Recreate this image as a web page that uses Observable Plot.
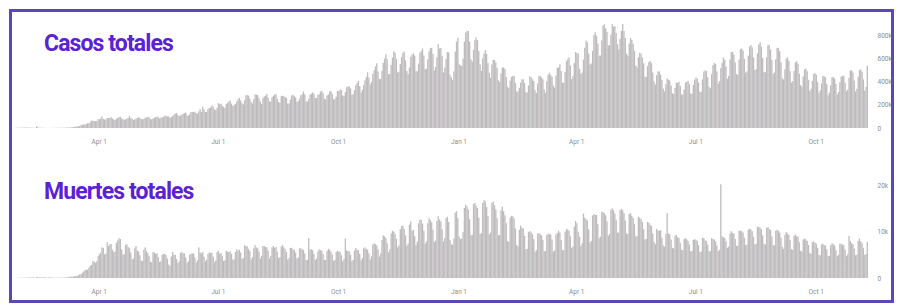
<!DOCTYPE html>
<html><head><meta charset="utf-8">
<script src="https://cdn.jsdelivr.net/npm/d3@7"></script>
<script src="https://cdn.jsdelivr.net/npm/@observablehq/plot@0.6"></script>
<style>
html,body{margin:0;padding:0;background:#fff;}
#wrap{position:relative;width:900px;height:308px;overflow:hidden;font-family:Roboto,"Noto Sans",sans-serif;}
#frame{position:absolute;left:9px;top:9px;width:885px;height:294px;box-sizing:border-box;border:3px solid #5848b8;}
.title{position:absolute;left:44px;font-weight:700;font-size:23px;color:#5b21d4;letter-spacing:-0.9px;white-space:nowrap;line-height:1;}
.chart{position:absolute;left:0;}
</style></head>
<body>
<div id="wrap">
<div id="frame"></div>
<div id="c1" class="chart" style="top:0px"></div>
<div id="c2" class="chart" style="top:150px"></div>
<div class="title" style="top:32px">Casos totales</div>
<div class="title" style="top:180px">Muertes totales</div>
</div>
<script>
// First day of the daily series (UTC); one value per day after that.
const startDate = "2020-01-28";

// Daily new cases worldwide, thousands (rows = weeks Mon..Sun)
const cases = [
  1.8,2.1,1.7,2.0,2.1,2.6,
  3.2,3.9,3.7,3.2,3.4,2.7,2.6,
  2.5,2.0,0.4,15.1,6.4,2.1,2.0,
  2.0,1.9,0.4,0.6,0.9,1.0,0.6,
  0.6,0.9,1.0,1.4,1.4,1.8,1.8,
  2.0,2.4,2.3,2.7,2.9,4.0,3.9,
  3.9,4.6,7.0,7.5,10.8,10.9,13.6,
  15.2,17.9,26,28,30,32,33,
  42,41,50,63,64,61,60,
  60,77,76,82,100,79,74,
  74,87,86,87,93,83,72,
  71,79,88,93,97,82,76,
  72,75,81,87,104,86,80,
  70,74,80,86,93,88,78,
  76,80,89,91,96,92,77,
  75,84,88,95,96,97,83,
  90,91,98,105,107,100,99,
  89,93,104,117,124,130,111,
  102,109,115,123,128,134,109,
  107,118,138,137,140,141,129,
  125,144,164,140,185,163,137,
  140,164,172,177,195,184,160,
  156,175,215,207,211,194,181,
  174,206,218,229,238,211,190,
  198,209,232,248,260,239,215,
  205,240,283,286,280,255,227,
  212,249,290,288,286,258,230,
  208,258,273,279,293,262,230,
  227,266,279,291,292,251,225,
  217,275,279,275,267,261,211,
  212,245,281,289,277,264,225,
  234,254,283,292,317,291,232,
  227,252,288,297,309,296,258,
  260,288,292,316,320,302,254,
  247,282,290,316,320,299,248,
  251,271,319,319,332,328,281,
  279,309,352,358,361,343,288,
  292,329,369,389,408,363,306,
  330,372,413,440,483,437,376,
  397,468,499,533,560,489,423,
  424,495,563,601,638,596,466,
  468,546,609,664,651,600,481,
  487,555,615,650,662,585,493,
  466,524,615,634,647,627,492,
  491,558,649,667,688,627,509,
  512,595,663,691,694,641,498,
  529,612,725,688,693,625,480,
  522,596,657,654,462,438,414,
  490,661,748,780,553,543,537,
  600,748,825,838,840,747,595,
  575,676,761,783,760,666,552,
  494,603,644,674,641,563,478,
  434,549,591,589,567,519,413,
  397,473,523,525,511,440,359,
  345,409,443,451,448,389,316,
  316,348,392,421,421,388,310,
  306,369,446,441,422,408,327,
  303,385,448,451,437,421,334,
  305,404,460,479,458,441,367,
  349,452,519,525,552,493,393,
  391,485,578,594,612,542,423,
  450,562,657,649,644,510,470,
  479,592,694,757,742,644,550,
  559,667,805,828,799,731,626,
  627,758,885,897,862,832,714,
  718,808,898,875,882,821,725,
  681,772,840,900,839,779,643,
  624,730,779,762,730,669,541,
  524,612,651,645,610,560,442,
  443,536,570,579,560,480,403,
  376,457,489,490,462,416,340,
  317,379,428,418,411,367,301,
  294,346,393,390,400,366,291,
  290,334,393,399,409,380,298,
  296,372,418,437,428,394,313,
  313,421,488,499,493,440,358,
  344,466,545,563,555,489,385,
  406,518,565,610,590,531,426,
  449,594,656,660,635,567,467,
  458,592,682,688,670,598,479,
  491,626,705,718,697,611,502,
  510,645,723,742,705,606,486,
  482,611,716,720,680,589,468,
  481,595,693,694,665,568,428,
  420,508,601,611,582,491,394,
  406,492,567,578,555,470,371,
  358,446,507,514,491,416,320,
  340,406,468,475,460,396,304,
  327,386,450,447,438,382,283,
  305,369,440,441,428,380,290,
  312,397,443,451,452,390,318,
  332,433,497,499,480,410,317,
  339,443,500,507,487,420,324,
  355,540
];

// Daily deaths worldwide, thousands (rows = weeks Mon..Sun)
const deaths = [
  0.03,0.03,0.04,0.04,0.05,0.05,
  0.06,0.07,0.07,0.07,0.09,0.09,0.1,
  0.11,0.1,0.01,0.25,0.14,0.14,0.14,
  0.1,0.14,0.14,0.12,0.03,0.1,0.1,
  0.15,0.07,0.06,0.04,0.06,0.06,0.05,
  0.07,0.08,0.07,0.11,0.1,0.1,0.2,
  0.2,0.3,0.3,0.35,0.35,0.4,0.5,
  0.6,0.8,0.8,1.1,1.4,1.7,1.8,
  1.8,2.2,2.6,2.8,3.6,3.6,3.3,
  3.6,4.7,5.1,5.5,6.6,6.5,5.1,
  5.3,7.7,6.9,7.3,7.3,6.1,5.6,
  5.7,7.6,8.1,8.6,8.4,6.2,5.1,
  5.1,7.1,7.3,6.7,6.4,5.5,4.0,
  4.2,6.4,6.9,5.9,5.7,4.9,3.7,
  3.7,6.1,6.6,5.8,5.4,4.7,3.5,
  3.4,5.6,5.5,5.2,5.3,4.5,3.4,
  3.6,5.0,5.2,5.2,4.9,4.2,2.9,
  2.6,4.6,5.6,5.0,5.0,4.1,3.2,
  3.6,5.4,5.6,5.3,5.3,4.4,3.2,
  3.6,5.0,5.2,5.3,5.3,4.4,3.3,
  3.8,6.6,5.5,5.3,5.6,4.6,3.6,
  3.9,5.2,5.5,5.4,5.4,4.6,3.4,
  3.8,5.6,5.9,5.2,5.4,4.7,3.7,
  3.8,5.9,5.7,5.6,5.7,5.2,4.0,
  4.0,5.6,6.2,5.9,6.1,5.5,4.1,
  4.3,7.0,6.9,6.8,6.3,5.8,4.0,
  4.5,6.4,7.1,6.6,6.4,5.7,4.2,
  4.8,6.9,6.9,6.7,6.6,5.9,4.2,
  4.8,6.6,6.9,6.5,6.7,5.7,4.3,
  4.5,6.8,7.1,6.6,6.2,5.6,4.0,
  4.3,6.5,6.5,6.1,6.1,5.5,4.2,
  4.4,6.4,6.4,6.2,6.0,5.3,3.9,
  3.9,8.6,6.1,6.2,6.0,5.2,3.9,
  4.2,5.7,6.2,6.0,5.9,5.2,3.9,
  3.9,5.8,6.3,6.1,5.7,5.1,3.7,
  3.9,5.6,5.9,5.7,5.6,4.9,3.6,
  4.1,8.5,5.9,5.8,5.8,5.0,3.6,
  3.9,5.9,6.5,6.1,6.0,5.2,3.8,
  4.3,6.4,6.6,6.3,6.1,5.3,4.0,
  4.7,7.2,7.5,7.3,7.0,6.2,4.6,
  5.3,8.2,9.2,9.0,8.6,7.5,5.5,
  6.2,9.6,10.2,10.0,9.5,8.5,6.6,
  7.0,10.5,11.2,11.3,10.6,9.2,7.0,
  7.4,11.5,12.2,10.2,10.4,9.0,7.1,
  7.8,11.8,12.6,12.5,11.7,10.2,7.4,
  7.9,11.8,12.9,12.5,12.0,10.4,7.8,
  8.1,12.3,13.3,12.6,12.2,10.5,7.9,
  8.6,12.9,13.2,12.1,8.2,7.3,7.1,
  8.5,14.1,14.4,12.9,8.9,8.4,8.5,
  9.9,15.1,15.8,15.4,14.8,12.7,9.3,
  9.3,16.0,16.2,15.6,15.1,13.0,9.5,
  9.6,16.2,16.8,16.5,15.3,13.4,9.4,
  9.8,16.2,16.5,15.7,14.8,12.9,9.2,
  9.3,14.6,15.4,14.4,13.5,11.8,8.0,
  7.8,13.0,13.4,13.3,12.8,10.7,7.1,
  6.8,10.4,11.3,10.8,10.7,9.1,6.2,
  6.3,9.9,10.1,9.8,9.5,8.4,5.7,
  6.0,9.6,9.7,9.4,9.2,8.2,5.8,
  5.8,9.3,9.6,9.4,9.4,8.3,5.7,
  6.0,9.4,9.7,10.2,9.8,8.2,6.0,
  6.0,10.0,10.6,10.4,10.2,9.0,6.5,
  6.8,11.1,12.3,11.8,10.0,8.9,6.9,
  7.5,13.9,13.0,12.7,12.4,10.5,7.6,
  8.0,13.5,13.8,13.6,13.6,11.6,8.6,
  8.9,14.3,14.2,14.0,13.5,12.2,9.1,
  9.5,14.8,15.0,14.6,13.9,12.5,9.8,
  9.8,14.6,14.9,14.6,14.0,12.4,9.6,
  9.5,13.8,14.0,13.4,12.9,11.6,9.0,
  9.0,13.2,13.0,12.7,12.1,10.5,8.3,
  8.4,12.1,11.9,11.5,11.2,9.6,7.8,
  7.3,10.6,10.2,10.2,10.3,8.7,7.0,
  6.8,9.5,14.0,9.6,9.4,8.3,6.5,
  6.4,9.1,9.3,8.8,8.6,7.6,6.1,
  6.0,8.4,8.6,8.3,8.0,7.2,5.8,
  5.8,8.2,8.4,8.2,8.0,7.1,5.6,
  5.7,8.7,8.6,8.1,8.0,7.2,5.8,
  5.8,8.6,8.4,8.3,7.9,7.0,5.8,
  6.1,20.2,9.0,8.8,8.6,7.9,6.5,
  6.8,9.6,10.1,9.7,9.6,8.4,6.9,
  7.0,10.2,10.2,10.1,9.8,8.7,7.1,
  7.2,10.4,10.6,10.5,10.1,8.9,7.2,
  7.4,11.1,11.0,10.9,10.5,9.2,7.4,
  7.2,10.8,11.0,10.6,10.4,9.0,7.1,
  7.0,10.2,10.4,10.2,9.8,8.7,6.7,
  6.3,9.3,9.9,9.6,9.3,8.2,6.2,
  6.1,9.1,9.4,9.0,8.9,7.7,5.9,
  5.7,8.3,8.5,8.3,8.0,7.1,5.4,
  5.2,7.7,7.9,7.6,7.4,6.5,5.0,
  4.9,7.2,7.4,7.1,7.0,6.2,4.7,
  4.8,7.1,7.5,7.3,7.0,6.0,4.7,
  5.0,7.4,7.4,7.2,7.1,6.1,4.7,
  5.1,9.1,8.0,7.5,7.3,6.4,4.9,
  5.0,8.0,8.5,7.9,7.5,6.5,5.0,
  5.2,7.8
];

const xDomain = ["2020-01-28", "2021-11-10"];
const tickDates = ["2020-04-01","2020-07-01","2020-10-01","2021-01-01","2021-04-01","2021-07-01","2021-10-01"];
const tickLabels = ["Apr 1","Jul 1","Oct 1","Jan 1","Apr 1","Jul 1","Oct 1"];
const casesTicks = [0, 200, 400, 600, 800];
const casesTickLabels = ["0", "200k", "400k", "600k", "800k"];
const deathsTicks = [0, 10, 20];
const deathsTickLabels = ["0", "10k", "20k"];

const t0 = new Date(startDate + "T00:00:00Z");
const toRows = arr => arr.map((v, i) => {
  const d = d3.utcDay.offset(t0, i);
  return {x1: d, x2: d3.utcDay.offset(d, 1), value: v};
});
const xTicks = tickDates.map(s => new Date(s + "T00:00:00Z"));
const xLabel = new Map(xTicks.map((d, i) => [+d, tickLabels[i]]));

function panel(rows, yDomain, yTicks, yLabels, marginTop, marginBottom, height) {
  const yLab = new Map(yTicks.map((v, i) => [v, yLabels[i]]));
  return Plot.plot({
    width: 900,
    height,
    marginLeft: 15,
    marginRight: 32,
    marginTop,
    marginBottom,
    style: {fontFamily: "Roboto, sans-serif", fontSize: "6.5px", color: "#8c8c8c", background: "transparent", overflow: "visible"},
    x: {type: "utc", domain: xDomain.map(s => new Date(s + "T00:00:00Z")), ticks: xTicks,
        tickFormat: d => xLabel.get(+d), tickSize: 0, tickPadding: 11, label: null},
    y: {domain: yDomain, axis: "right", ticks: yTicks, tickFormat: d => yLab.get(d),
        tickSize: 0, tickPadding: 9, label: null},
    marks: [
      Plot.rectY(rows, {x1: "x1", x2: "x2", y: "value", fill: "#bfbcbe"})
    ]
  });
}

document.getElementById("c1").append(
  panel(toRows(cases), [0, 900], casesTicks, casesTickLabels, 24, 22, 150));
document.getElementById("c2").append(
  panel(toRows(deaths), [0, 22], deathsTicks, deathsTickLabels, 26, 30, 158));
</script>
</body></html>
